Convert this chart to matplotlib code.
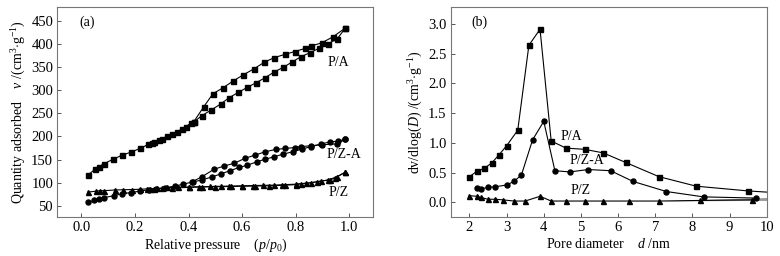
import matplotlib
matplotlib.use("Agg")
import matplotlib.pyplot as plt
import numpy as np

plt.rcParams['font.family'] = ['Liberation Serif', 'DejaVu Serif']
plt.rcParams['mathtext.fontset'] = 'custom'
plt.rcParams['mathtext.rm'] = 'Liberation Serif'
plt.rcParams['mathtext.it'] = 'Liberation Serif:italic'

# ---- Panel (a): N2 isotherms ----
pa_ads_p = [0.025, 0.05, 0.066, 0.084, 0.119, 0.15, 0.184, 0.219, 0.25, 0.263, 0.27, 0.29, 0.30, 0.32,
            0.34, 0.357, 0.376, 0.389, 0.41, 0.42, 0.45, 0.485, 0.52, 0.553, 0.586, 0.62, 0.653, 0.687,
            0.72, 0.754, 0.788, 0.82, 0.855, 0.887, 0.92, 0.955, 0.986]
pa_ads_v = [117, 129, 135, 141, 151, 159, 166, 174, 183, 185, 188, 192, 195, 200,
            205, 210, 216, 220, 230, 231, 245, 257, 270, 284, 295, 306, 316, 327,
            339, 349, 361, 372, 381, 390, 400, 410, 434]
pa_des_p = [0.986, 0.94, 0.898, 0.858, 0.836, 0.796, 0.76, 0.72, 0.683, 0.645, 0.605, 0.568, 0.529,
            0.491, 0.457, 0.42]
pa_des_v = [434, 415, 402, 395, 390, 383, 377, 370, 360, 346, 333, 320, 305, 292, 264, 232]

pza_ads_p = [0.025, 0.048, 0.065, 0.085, 0.12, 0.15, 0.184, 0.219, 0.253, 0.28, 0.313, 0.35, 0.38,
             0.416, 0.45, 0.489, 0.52, 0.555, 0.588, 0.62, 0.654, 0.687, 0.72, 0.754, 0.79, 0.824,
             0.858, 0.896, 0.927, 0.959, 0.986]
pza_ads_v = [58, 62, 65, 68, 72, 76, 79, 82, 85, 87, 89, 93, 97, 102, 106, 113, 119, 126, 133, 138,
             145, 151, 156, 162, 167, 173, 178, 184, 188, 190, 194]
pza_des_p = [0.986, 0.955, 0.90, 0.858, 0.82, 0.796, 0.76, 0.726, 0.687, 0.65, 0.612, 0.57, 0.532,
             0.495, 0.45, 0.413]
pza_des_v = [194, 184, 182, 180, 178, 176, 174, 172, 167, 160, 153, 142, 136, 129, 113, 102]

pz_ads_p = [0.025, 0.056, 0.07, 0.084, 0.125, 0.157, 0.19, 0.22, 0.245, 0.258, 0.27, 0.283, 0.3,
            0.34, 0.4, 0.45, 0.5, 0.55, 0.6, 0.65, 0.7, 0.75, 0.8, 0.82, 0.858, 0.896, 0.927,
            0.946, 0.986]
pz_ads_v = [80, 82, 83, 83, 84.5, 85, 85.5, 86, 87, 87, 87.5, 88, 88.5, 89, 90, 91, 91.5, 92,
            92.5, 93, 93.5, 94.5, 96, 98, 100, 104, 106, 110, 123]
pz_des_p = [0.986, 0.955, 0.92, 0.88, 0.84, 0.8, 0.76, 0.72, 0.68, 0.64, 0.6, 0.56, 0.52, 0.48,
            0.44, 0.4, 0.36, 0.32]
pz_des_v = [123, 113, 106, 102, 99, 97, 96, 95, 94.5, 94, 93.5, 93, 92.5, 92, 91.5, 91, 90.5, 90]

# ---- Panel (b): pore size distribution ----
pa_d = [2.0, 2.2, 2.4, 2.6, 2.8, 3.0, 3.3, 3.6, 3.9, 4.2, 4.6, 5.1, 5.6, 6.2, 7.1, 8.1, 9.5, 10.0]
pa_y = [0.43, 0.52, 0.57, 0.66, 0.80, 0.95, 1.21, 2.64, 2.91, 1.03, 0.91, 0.89, 0.83, 0.67, 0.43,
        0.27, 0.19, 0.17]
pza_d = [2.2, 2.3, 2.5, 2.7, 3.0, 3.2, 3.4, 3.7, 4.0, 4.3, 4.7, 5.2, 5.8, 6.4, 7.3, 8.3, 9.7]
pza_y = [0.24, 0.22, 0.25, 0.26, 0.29, 0.35, 0.46, 1.05, 1.36, 0.53, 0.51, 0.55, 0.53, 0.35, 0.18,
         0.09, 0.07]
pz_d = [2.0, 2.2, 2.3, 2.5, 2.7, 2.9, 3.2, 3.5, 3.9, 4.2, 4.6, 5.1, 5.6, 6.3, 7.1, 8.2, 9.6]
pz_y = [0.11, 0.10, 0.08, 0.05, 0.05, 0.04, 0.02, 0.02, 0.10, 0.02, 0.02, 0.02, 0.02, 0.02, 0.02,
        0.03, 0.04]
band_d = [7.1, 8.2, 9.6, 10.0]
band_lo = [0.02, 0.025, 0.03, 0.03]
band_hi = [0.02, 0.045, 0.07, 0.08]

fig = plt.figure(figsize=(7.8, 2.56), dpi=100)
axA = fig.add_axes([0.0735, 0.152, 0.405, 0.822])
axB = fig.add_axes([0.578, 0.152, 0.405, 0.822])

lw = 0.8
ms = 3.6
kw = dict(color='black', lw=lw)
axA.plot(pa_ads_p, pa_ads_v, marker='s', ms=ms, **kw)
axA.plot(pa_des_p, pa_des_v, marker='s', ms=ms, **kw)
axA.plot(pza_ads_p, pza_ads_v, marker='o', ms=ms, **kw)
axA.plot(pza_des_p, pza_des_v, marker='o', ms=ms, **kw)
axA.plot(pz_ads_p, pz_ads_v, marker='^', ms=ms, **kw)
axA.plot(pz_des_p, pz_des_v, marker='^', ms=ms, **kw)

axB.fill_between(band_d, band_lo, band_hi, color='#999999', lw=0)
axB.plot(pa_d, pa_y, marker='s', ms=ms, markevery=list(range(len(pa_d) - 1)), **kw)
axB.plot(pza_d, pza_y, marker='o', ms=ms, **kw)
axB.plot(pz_d, pz_y, marker='^', ms=ms, **kw)

fs = 10
tfs = 10.5
axA.set_xlim(-0.09, 1.09)
axA.set_ylim(26, 480)
axA.set_xticks(np.arange(0, 1.01, 0.2))
axA.set_xticklabels([f"{v:.1f}" for v in np.arange(0, 1.01, 0.2)])
axA.set_yticks(np.arange(50, 451, 50))
axA.set_xlabel(r"Relative pressure    ($\it{p}$/$\it{p}$$_0$)", fontsize=fs, labelpad=2)
axA.set_ylabel(r"Quantity adsorbed    $\it{v}$ /(cm$^3$$\cdot$g$^{-1}$)", fontsize=fs, labelpad=2)
axA.text(-0.006, 446, "(a)", fontsize=fs, ha='left', va='center')
axA.text(0.96, 359, "P/A", fontsize=fs, ha='center', va='center')
axA.text(0.98, 161, "P/Z-A", fontsize=fs, ha='center', va='center')
axA.text(0.96, 79, "P/Z", fontsize=fs, ha='center', va='center')

axB.set_xlim(1.5, 10)
axB.set_ylim(-0.25, 3.29)
axB.set_xticks(range(2, 11))
axB.set_yticks(np.arange(0, 3.01, 0.5))
axB.set_yticklabels([f"{v:.1f}" for v in np.arange(0, 3.01, 0.5)])
axB.set_xlabel(r"Pore diameter    $\it{d}$ /nm", fontsize=fs, labelpad=2)
axB.set_ylabel(r"dv/dlog($\it{D}$) /(cm$^3$$\cdot$g$^{-1}$)", fontsize=fs, labelpad=2)
axB.text(2.05, 3.02, "(b)", fontsize=fs, ha='left', va='center')
axB.text(4.74, 1.1, "P/A", fontsize=fs, ha='center', va='center')
axB.text(5.15, 0.71, "P/Z-A", fontsize=fs, ha='center', va='center')
axB.text(5.0, 0.2, "P/Z", fontsize=fs, ha='center', va='center')

for ax in (axA, axB):
    for s in ax.spines.values():
        s.set_color('#777777')
        s.set_linewidth(0.8)
    ax.tick_params(direction='in', length=3, width=0.7, color='#555555', labelsize=tfs,
                   top=False, right=False, pad=3)

fig.savefig("out.png", dpi=100, facecolor='white')
